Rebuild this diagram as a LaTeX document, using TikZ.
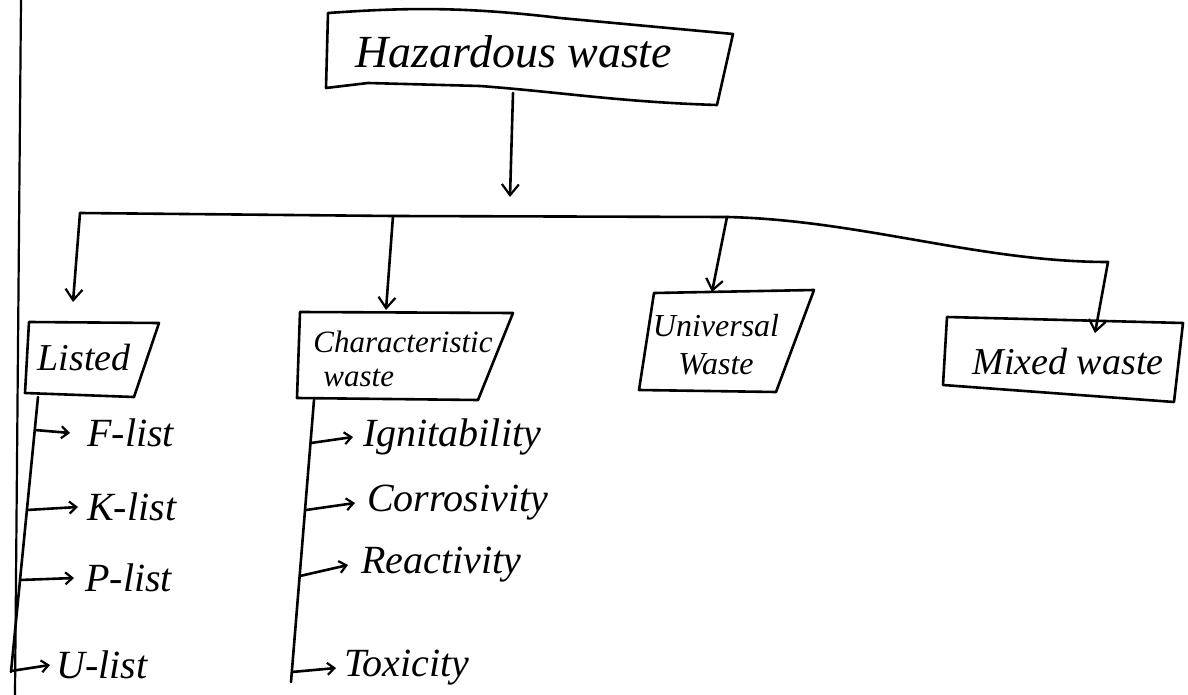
\documentclass[tikz,border=0pt]{standalone}
\usepackage{fontspec}
\setmainfont{Liberation Serif}
\usetikzlibrary{arrows.meta}
\begin{document}
\begin{tikzpicture}[x=1pt,y=-1pt, line width=2.6pt, line join=round, line cap=round,
  box/.style={draw, line width=2.6pt},
  title/.style={font=\itshape\fontsize{46}{48}\selectfont, inner sep=0pt},
  lbl/.style={font=\itshape\fontsize{32}{40}\selectfont, inner sep=0pt},
  item/.style={font=\itshape\fontsize{40}{42}\selectfont, anchor=west, inner sep=0pt},
  drop/.style={-{Straight Barb[length=11pt,width=17pt,line width=2.2pt]}},
  tick/.style={-{Straight Barb[length=7pt,width=12pt,line width=2.2pt]}}]
\useasboundingbox (0,0) rectangle (1188,695);
\fill[white] (0,0) rectangle (1188,695);

% notebook margin line
\coordinate (m1) at (21,0);
\coordinate (m2) at (15,695);
\draw[line width=2.2pt] (m1) -- (m2);

% top box
\coordinate (h1) at (328,13);
\coordinate (h2) at (733,34);
\coordinate (h3) at (717,105);
\coordinate (h4) at (326,88);
\draw[box] (h1) .. controls (400,8) and (460,6) .. (560,18) -- (h2) -- (h3)
  .. controls (620,102) and (560,92) .. (480,86) -- (368,83) -- (h4) -- cycle;
\node[title] (haz) at (514,52) {Hazardous waste};

% main arrow and bar
\coordinate (t1) at (513,93);
\coordinate (t2) at (510,197);
\draw[drop] (t1) -- (t2);
\coordinate (b0) at (80,213);
\coordinate (b1) at (393,216);
\coordinate (b2) at (727,217);
\coordinate (b3) at (1108,262);
\draw (b0) -- (b1) -- (b2) .. controls (860,220) and (980,262) .. (b3);

% Listed box
\coordinate (l1) at (29,322);
\coordinate (l2) at (159,323);
\coordinate (l3) at (134,397);
\coordinate (l4) at (25,393);
\draw[box] (l1) -- (l2) -- (l3) -- (l4) -- cycle;
\node[lbl, font=\itshape\fontsize{38}{40}\selectfont] (listed) at (84,358) {Listed};

% Characteristic box
\coordinate (c1) at (300,312);
\coordinate (c2) at (513,313);
\coordinate (c3) at (478,400);
\coordinate (c4) at (297,398);
\draw[box] (c1) -- (c2) -- (c3) -- (c4) -- cycle;
\node[lbl, font=\itshape\fontsize{31}{38}\selectfont, align=left] (char) at (403,359) {Characteristic\\[-4pt]\hspace*{10pt}waste};

% Universal box
\coordinate (u1) at (654,293);
\coordinate (u2) at (814,290);
\coordinate (u3) at (776,392);
\coordinate (u4) at (639,390);
\draw[box] (u1) -- (u2) -- (u3) -- (u4) -- cycle;
\node[lbl, align=center] (univ) at (716,345) {Universal\\[-2pt]Waste};

% Mixed box
\coordinate (x1) at (947,317);
\coordinate (x2) at (1183,323);
\coordinate (x3) at (1174,402);
\coordinate (x4) at (943,385);
\draw[box] (x1) -- (x2) -- (x3) -- (x4) -- cycle;
\node[lbl, font=\itshape\fontsize{38}{40}\selectfont] (mixed) at (1068,362) {Mixed waste};

% drops
\coordinate (d0) at (73,302);
\coordinate (d1) at (386,310);
\coordinate (d2) at (712,292);
\coordinate (d3) at (1095,333);
\draw[drop] (b0) -- (d0);
\draw[drop] (b1) -- (d1);
\draw[drop] (b2) -- (d2);
\draw[drop] (b3) -- (d3);

% Listed sub-items
\coordinate (ls) at (38,397);
\coordinate (le) at (11,672);
\draw (ls) -- (le);
\coordinate (lf) at (35,430);
\coordinate (lk) at (27,510);
\coordinate (lp) at (20,580);
\coordinate (lu) at (11,671);
\node[item] (flist) at (86,433) {F-list};
\node[item] (klist) at (86,507) {K-list};
\node[item] (plist) at (84,578) {P-list};
\node[item] (ulist) at (55,665) {U-list};
\draw[tick] (lf) -- ([xshift=-16pt]flist.west);
\draw[tick] (lk) -- ([xshift=-8pt]klist.west);
\draw[tick] (lp) -- ([xshift=-10pt]plist.west);
\draw[tick] (lu) -- ([xshift=-5pt]ulist.west);

% Characteristic sub-items
\coordinate (cs) at (314,400);
\coordinate (ce) at (291,682);
\draw (cs) -- (ce);
\coordinate (ci) at (311,443);
\coordinate (cc) at (306,510);
\coordinate (cr) at (300,576);
\coordinate (ct) at (292,672);
\node[item] (ign) at (362,437) {Ignitability};
\node[item] (corr) at (366,503) {Corrosivity};
\node[item] (reac) at (360,565) {Reactivity};
\node[item] (tox) at (343,668) {Toxicity};
\draw[tick] (ci) -- ([xshift=-9pt]ign.west);
\draw[tick] (cc) -- ([xshift=-11pt]corr.west);
\draw[tick] (cr) -- ([xshift=-12pt]reac.west);
\draw[tick] (ct) -- ([xshift=-7pt]tox.west);
\end{tikzpicture}
\end{document}
